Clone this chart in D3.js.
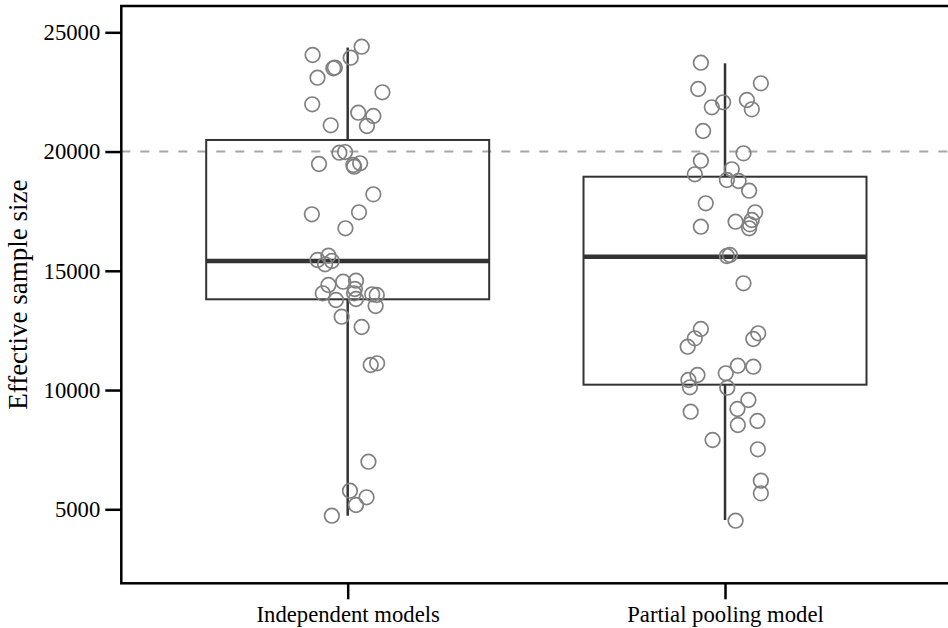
<!DOCTYPE html>
<html>
<head>
<meta charset="utf-8">
<script src="https://cdn.jsdelivr.net/npm/d3@7"></script>
<style>
  body { margin: 0; background: #fff; }
  svg text { font-family: "Liberation Serif", serif; fill: #000; }
</style>
</head>
<body>
<div id="svg-container"></div>
<script>
////////////////////////////////////////////////////////////////////
////////////////////////////  Data  ////////////////////////////////
const categories = ["Independent models", "Partial pooling model"];
const yTicks = [5000, 10000, 15000, 20000, 25000];
const refLine = 20000;

// box stats: [whisker low, q1, median, q3, whisker high]
const boxIndependent = [4730, 13805, 15410, 20485, 24360];
const boxPartial = [4550, 10225, 15590, 18945, 23700];

// points (ess) and horizontal jitter, in category units
const essIndependent = [
  24048, 24396, 23935, 23491, 23520, 23096, 22484, 21981, 21629, 21490,
  21071, 21101, 19952, 19980, 19478, 19436, 19365, 19507, 18207, 17369,
  17453, 16782, 15453, 15633, 15272, 15411, 14404, 14543, 14585, 14056,
  13775, 14237, 14056, 13817, 14014, 13985, 13524, 13075, 12643, 11050,
  11121, 6995, 5779, 5503, 5180, 4731
];
const jitterIndependent = [
  -0.093, 0.037, 0.008, -0.038, -0.034, -0.08, 0.092, -0.094, 0.028, 0.068,
  0.051, -0.045, -0.022, -0.007, -0.076, 0.015, 0.017, 0.033, 0.068, -0.095,
  0.03, -0.006, -0.08, -0.051, -0.06, -0.042, -0.051, -0.012, 0.022, -0.066,
  -0.031, 0.019, 0.017, 0.022, 0.065, 0.077, 0.074, -0.016, 0.037, 0.061,
  0.078, 0.055, 0.006, 0.05, 0.022, -0.042
];
const essPartial = [
  23725, 22862, 22623, 22065, 21855, 22161, 21771, 20862, 19926, 19616,
  19256, 19046, 18807, 18765, 18358, 17830, 17453, 17059, 17130, 16949,
  16782, 16849, 15620, 15662, 14476, 12559, 12169, 11817, 12379, 12140,
  11021, 10979, 10702, 10631, 10421, 10115, 10098, 9582, 9205, 9092,
  8702, 8534, 7905, 7515, 6199, 5670, 4521
];
const jitterPartial = [
  -0.064, 0.095, -0.071, -0.005, -0.035, 0.058, 0.071, -0.058, 0.049, -0.064,
  0.018, -0.08, 0.005, 0.036, 0.064, -0.051, 0.08, 0.028, 0.071, 0.066,
  0.064, -0.064, 0.005, 0.013, 0.049, -0.064, -0.08, -0.099, 0.088, 0.075,
  0.034, 0.075, 0.002, -0.073, -0.097, -0.093, 0.006, 0.062, 0.033, -0.091,
  0.086, 0.034, -0.033, 0.087, 0.095, 0.095, 0.028
];

////////////////////////////////////////////////////////////////////
////////////////////////////  Init  ////////////////////////////////
const width = 948;
const height = 628;
const plot = { left: 121.3, right: 951.4, top: 6, bottom: 583.3 };

const svg = d3
  .select("#svg-container")
  .append("svg")
  .attr("width", width)
  .attr("height", height);

// scales
const x = d3
  .scalePoint()
  .domain(categories)
  .range([plot.left, plot.right])
  .padding(0.6);

const y = d3
  .scaleLinear()
  .domain([1897, 26103])
  .range([plot.bottom, plot.top]);

const step = x.step();
const boxWidth = step * 0.75;

const groups = [
  { cat: categories[0], box: boxIndependent, ess: essIndependent, jitter: jitterIndependent },
  { cat: categories[1], box: boxPartial, ess: essPartial, jitter: jitterPartial },
];

////////////////////////////////////////////////////////////////////
////////////////////////////  Reference line  //////////////////////
svg
  .append("line")
  .attr("x1", plot.left)
  .attr("x2", plot.right)
  .attr("y1", y(refLine))
  .attr("y2", y(refLine))
  .attr("stroke", "#a6a6a6")
  .attr("stroke-width", 2)
  .attr("stroke-dasharray", "9,10");

////////////////////////////////////////////////////////////////////
////////////////////////////  Boxes  ///////////////////////////////
const box = svg
  .selectAll(".box")
  .data(groups)
  .join("g")
  .attr("class", "box")
  .attr("transform", (d) => `translate(${x(d.cat)},0)`);

// whiskers
box
  .append("line")
  .attr("y1", (d) => y(d.box[0]))
  .attr("y2", (d) => y(d.box[1]))
  .attr("stroke", "#333")
  .attr("stroke-width", 2.5);

box
  .append("line")
  .attr("y1", (d) => y(d.box[3]))
  .attr("y2", (d) => y(d.box[4]))
  .attr("stroke", "#333")
  .attr("stroke-width", 2.5);

box
  .append("rect")
  .attr("x", -boxWidth / 2)
  .attr("width", boxWidth)
  .attr("y", (d) => y(d.box[3]))
  .attr("height", (d) => y(d.box[1]) - y(d.box[3]))
  .attr("fill", "none")
  .attr("stroke", "#333")
  .attr("stroke-width", 2);

// median
box
  .append("line")
  .attr("x1", -boxWidth / 2)
  .attr("x2", boxWidth / 2)
  .attr("y1", (d) => y(d.box[2]))
  .attr("y2", (d) => y(d.box[2]))
  .attr("stroke", "#333")
  .attr("stroke-width", 4.5);

////////////////////////////////////////////////////////////////////
////////////////////////////  Points  //////////////////////////////
box
  .selectAll("circle")
  .data((d) => d.ess.map((v, i) => ({ v, j: d.jitter[i] })))
  .join("circle")
  .attr("cx", (d) => d.j * step)
  .attr("cy", (d) => y(d.v))
  .attr("r", 7.3)
  .attr("fill", "none")
  .attr("stroke", "#808080")
  .attr("stroke-width", 1.7);

////////////////////////////////////////////////////////////////////
////////////////////////////  Axes  ////////////////////////////////
// frame
svg
  .append("rect")
  .attr("x", plot.left)
  .attr("y", plot.top)
  .attr("width", plot.right - plot.left)
  .attr("height", plot.bottom - plot.top)
  .attr("fill", "none")
  .attr("stroke", "#000")
  .attr("stroke-width", 2.5);

const yAxis = svg
  .append("g")
  .attr("transform", `translate(${plot.left},0)`)
  .call(d3.axisLeft(y).tickValues(yTicks).tickSize(16).tickPadding(5).tickFormat(d3.format("d")));

const xAxis = svg
  .append("g")
  .attr("transform", `translate(0,${plot.bottom})`)
  .call(d3.axisBottom(x).tickSize(16).tickPadding(7));

[yAxis, xAxis].forEach((g) => {
  g.select(".domain").remove();
  g.selectAll(".tick line").attr("stroke", "#000").attr("stroke-width", 2.5);
  g.selectAll(".tick text").style("font-size", "22.7px").attr("fill", "#000");
});

// y title
svg
  .append("text")
  .attr("transform", `translate(27,${(plot.top + plot.bottom) / 2}) rotate(-90)`)
  .attr("text-anchor", "middle")
  .style("font-size", "27px")
  .text("Effective sample size");
</script>
</body>
</html>
